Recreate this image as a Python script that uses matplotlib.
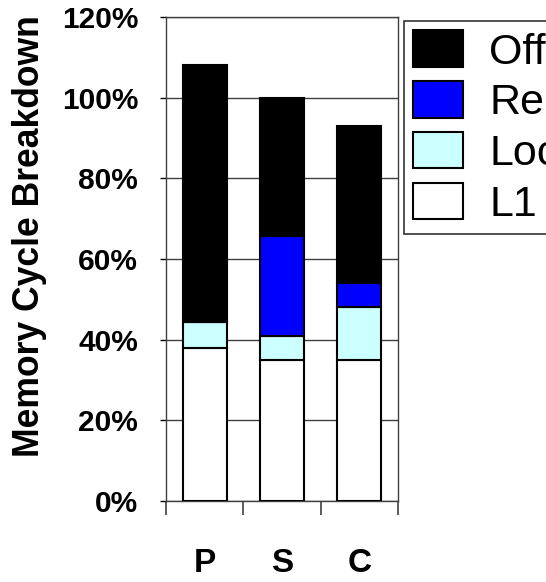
import matplotlib
matplotlib.use("Agg")
import matplotlib.pyplot as plt
import numpy as np
from matplotlib.ticker import FixedLocator, PercentFormatter

categories = ["P", "S", "C"]
l1 = [38.0, 35.0, 35.0]
local = [6.5, 6.0, 13.0]
remote = [0.0, 24.7, 6.0]
offchip = [63.5, 34.3, 39.0]
series_names = ["L1", "Local", "Remote", "Off-chip"]
series_colors = ["#FFFFFF", "#CCFFFF", "#0000FF", "#000000"]
yticks = [0, 20, 40, 60, 80, 100, 120]

plt.rcParams['font.family'] = ['Liberation Sans', 'DejaVu Sans']

fig = plt.figure(figsize=(5.46, 5.82), dpi=100)
ax = fig.add_axes([166/546, 1 - 501/582, 232/546, 484/582])

x = np.arange(len(categories))
bottom = np.zeros(len(categories))
handles = []
for name, vals, col in zip(series_names, [l1, local, remote, offchip], series_colors):
    vals = np.array(vals)
    h = ax.bar(x, vals, width=0.57, bottom=bottom, color=col, edgecolor="black",
               linewidth=1.5, label=name, zorder=3)
    handles.append(h)
    bottom += vals

ax.set_xlim(-0.5, 2.5)
ax.set_ylim(0, 120)
ax.set_yticks(yticks)
ax.yaxis.set_major_formatter(PercentFormatter(decimals=0))
ax.yaxis.grid(True, color="#404040", linewidth=1.0, zorder=0)
ax.tick_params(axis="y", length=4, width=1, pad=16, labelsize=21.5)
for lab in ax.get_yticklabels():
    lab.set_fontweight("bold")

ax.set_xticks(x)
ax.set_xticklabels(categories, fontsize=24, fontweight="bold")
ax.tick_params(axis="x", which="major", length=0, pad=34)
ax.xaxis.set_minor_locator(FixedLocator([-0.5, 0.5, 1.5, 2.5]))
ax.tick_params(axis="x", which="minor", length=10, width=1.2, direction="out", color="#404040")

for sp in ax.spines.values():
    sp.set_color("#404040")
    sp.set_linewidth(1.0)

ax.set_ylabel("Memory Cycle Breakdown", fontsize=25.6, fontweight="bold")
ax.yaxis.set_label_coords((47 - 166)/232, (501 - 236)/484)

leg = fig.legend(handles[::-1], series_names[::-1], loc="upper left",
                 bbox_to_anchor=(404/546, 1 - 21/582), bbox_transform=fig.transFigure,
                 fontsize=31, frameon=True, fancybox=False, edgecolor="black",
                 handlelength=1.14, handleheight=0.93, labelspacing=0.2,
                 handletextpad=0.62, borderpad=0.22, borderaxespad=0)
leg.get_frame().set_linewidth(1.2)

fig.savefig("out.png", dpi=100)
